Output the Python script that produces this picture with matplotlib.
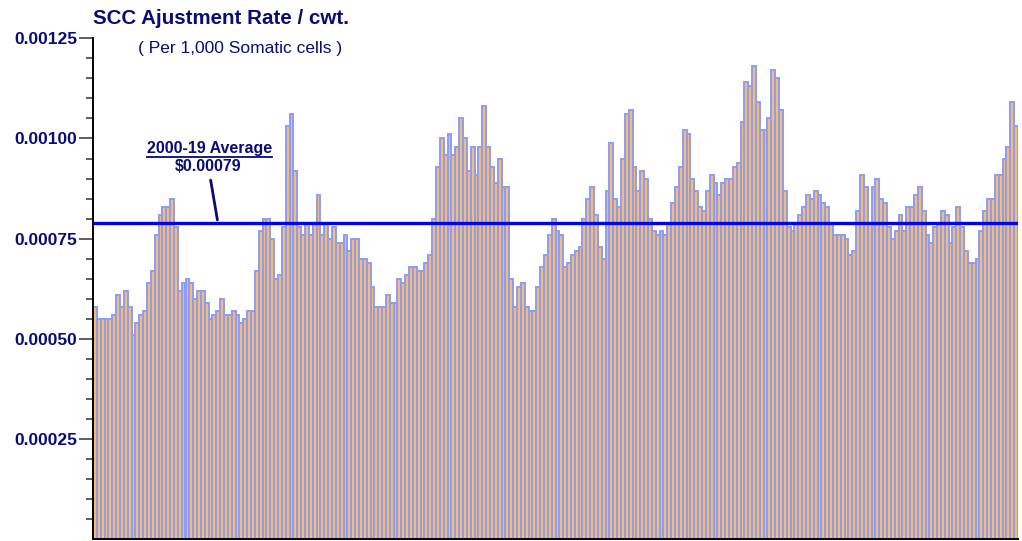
import numpy as np
import matplotlib
matplotlib.use("Agg")
import matplotlib.pyplot as plt
from matplotlib.lines import Line2D

plt.rcParams['font.family'] = ['Liberation Sans', 'DejaVu Sans']

# monthly SCC adjustment rate, 2000-2019 (units of 1e-5 $/cwt per 1,000 cells)
rate_2000_04 = [58, 55, 55, 55, 55, 56, 61, 58, 62, 58, 51, 54, 56, 57, 64, 67, 76, 81, 83, 83,
                85, 78, 62, 64, 65, 64, 60, 62, 62, 59, 55, 56, 57, 60, 56, 56, 57, 56, 54, 55,
                57, 57, 67, 77, 80, 80, 75, 65, 66, 78, 103, 106, 92, 78, 76, 79, 76, 79, 86, 76]
rate_2005_09 = [79, 75, 78, 74, 74, 76, 72, 75, 75, 70, 70, 69, 63, 58, 58, 58, 61, 59, 59, 65,
                64, 66, 68, 68, 67, 67, 69, 71, 80, 93, 100, 96, 101, 96, 98, 105, 100, 92, 98, 91,
                98, 108, 98, 93, 89, 95, 88, 88, 65, 58, 63, 64, 58, 57, 57, 63, 68, 71, 76, 80]
rate_2010_14 = [77, 76, 68, 69, 71, 72, 73, 80, 85, 88, 81, 73, 70, 87, 99, 85, 83, 95, 106, 107,
                93, 87, 92, 90, 80, 77, 76, 77, 76, 79, 84, 88, 93, 102, 101, 90, 87, 83, 82, 87,
                91, 89, 86, 89, 90, 90, 93, 94, 104, 114, 113, 118, 109, 102, 102, 105, 117, 115, 107, 87]
rate_2015_19 = [78, 77, 79, 81, 83, 86, 85, 87, 86, 84, 83, 79, 76, 76, 76, 75, 71, 72, 82, 91,
                88, 79, 88, 90, 85, 84, 78, 75, 77, 81, 77, 83, 83, 86, 88, 82, 76, 74, 78, 79,
                82, 81, 74, 78, 83, 78, 72, 69, 69, 70, 77, 82, 85, 85, 91, 91, 95, 98, 109, 103]
average = 0.00079
y_ticks = [0.00025, 0.00050, 0.00075, 0.00100, 0.00125]

rates = np.array(rate_2000_04 + rate_2005_09 + rate_2010_14 + rate_2015_19) * 1e-5
months = np.arange(len(rates))

navy = '#0a0a78'

fig = plt.figure(figsize=(10.22, 5.41), dpi=100)
ax = fig.add_axes([93 / 1022, 1.7 / 541, 925 / 1022, 501 / 541])

ax.bar(months, rates, width=1.0, color='#f9bd6a', edgecolor='#8c9cf8', linewidth=1.4)
ax.axhline(average, color='#0000ee', linewidth=2.4, zorder=3)

ax.set_xlim(-0.5, len(rates) - 0.5)
ax.set_ylim(0, 0.00125)
ax.set_yticks(y_ticks)
ax.set_yticklabels([f'{t:.5f}' for t in y_ticks], fontsize=12.5, fontweight='bold', color=navy)
ax.set_yticks(np.arange(0.00005, 0.00125, 0.00005), minor=True)
ax.tick_params(axis='y', which='major', length=10, width=1.1, color='#333333', pad=1.5)
ax.tick_params(axis='y', which='minor', length=5, width=1.1, color='#333333')
ax.set_xticks([])
for side in ['top', 'right']:
    ax.spines[side].set_visible(False)
ax.spines['left'].set_linewidth(1.4)
ax.spines['bottom'].set_linewidth(1.4)

# title and subtitle
fig.text(93 / 1022, 1 - 18 / 541, 'SCC Ajustment Rate / cwt.', fontsize=14.8, fontweight='bold',
         color=navy, ha='left', va='center')
fig.text(240 / 1022, 1 - 49 / 541, '( Per 1,000 Somatic cells )', fontsize=12.5, color=navy,
         ha='center', va='center')

# average callout
lbl = ax.text(29.7, 0.000975, '2000-19 Average', fontsize=11.5, fontweight='bold', color=navy,
              ha='center', va='center')
ax.text(29.3, 0.000930, '$0.00079', fontsize=11.5, fontweight='bold', color=navy,
        ha='center', va='center')
ax.annotate('', xy=(31.9, average), xytext=(29.9, 0.000903),
            arrowprops=dict(arrowstyle='-', color=navy, lw=2))

fig.canvas.draw()
bb = lbl.get_window_extent(fig.canvas.get_renderer()).transformed(fig.transFigure.inverted())
fig.add_artist(Line2D([bb.x0, bb.x1], [bb.y0 - 0.002, bb.y0 - 0.002], transform=fig.transFigure,
                      color=navy, linewidth=1.3))

fig.savefig('out.png', dpi=100)
